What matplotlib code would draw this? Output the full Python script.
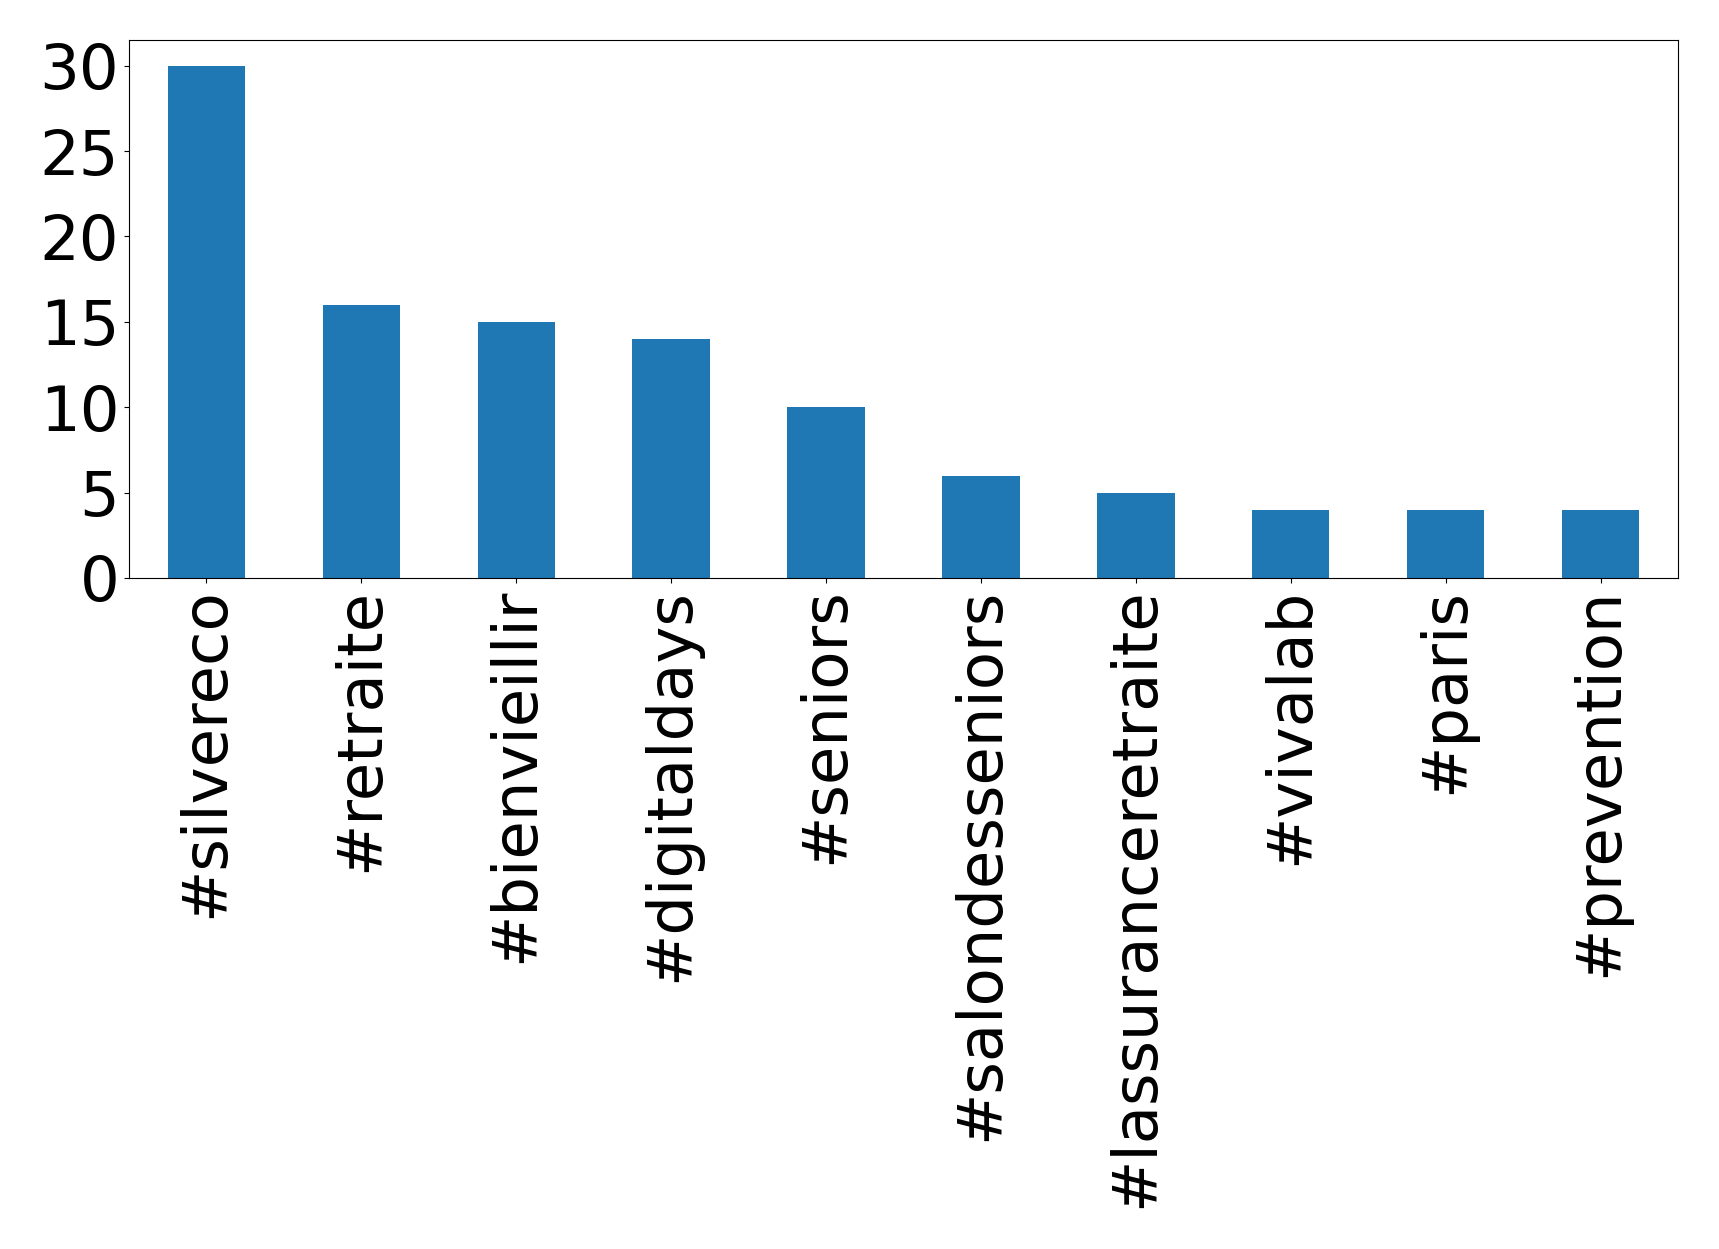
import matplotlib
matplotlib.use("Agg")
import matplotlib.pyplot as plt
import numpy as np

hashtags = ["#silvereco", "#retraite", "#bienvieillir", "#digitaldays", "#seniors",
            "#salondesseniors", "#lassuranceretraite", "#vivalab", "#paris", "#prevention"]
counts = [30, 16, 15, 14, 10, 6, 5, 4, 4, 4]

fig = plt.figure(figsize=(17.19, 12.49), dpi=100)
ax = fig.add_axes([129 / 1719, 1 - 578 / 1249, (1678 - 129) / 1719, (578 - 40) / 1249])
x = np.arange(len(hashtags))
ax.bar(x, counts, 0.5, color="#1f77b4")
ax.set_xlim(-0.5, len(hashtags) - 0.5)
ax.set_ylim(0, 31.5)
ax.set_yticks([0, 5, 10, 15, 20, 25, 30])
ax.set_xticks(x)
ax.set_xticklabels(hashtags, rotation=90)
ax.tick_params(labelsize=45)
fig.savefig("out.png", dpi=100)
